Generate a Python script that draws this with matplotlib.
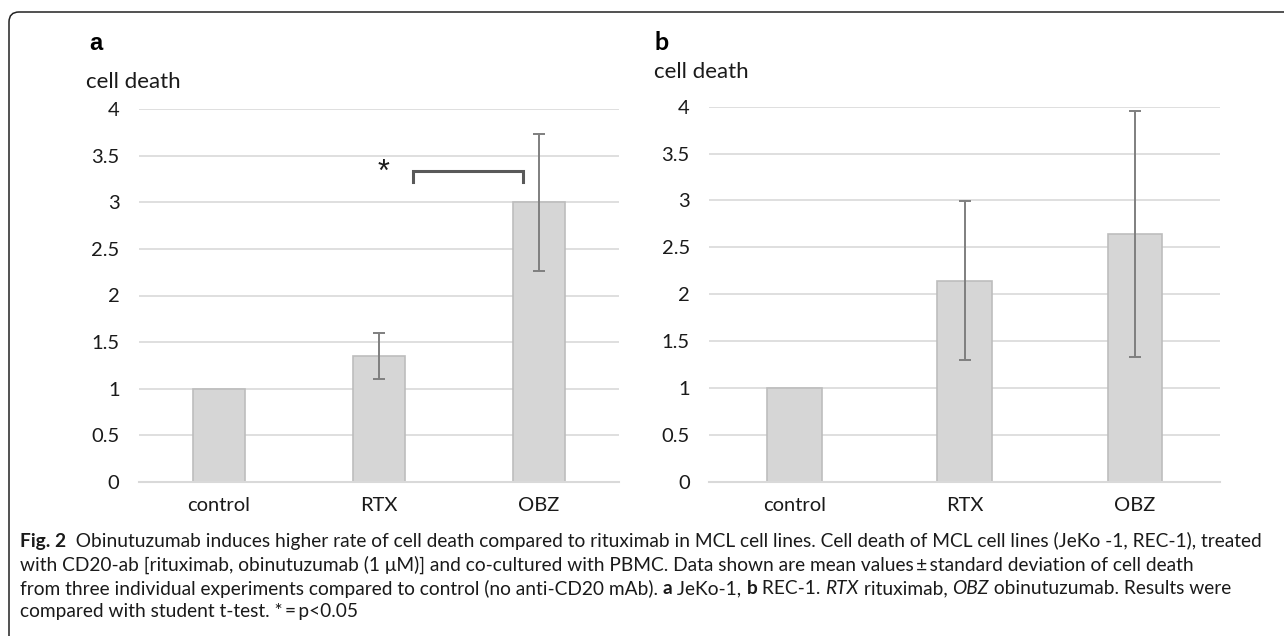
import matplotlib
matplotlib.use("Agg")
import matplotlib.pyplot as plt
from matplotlib.patches import FancyBboxPatch

# data
categories = ["control", "RTX", "OBZ"]
jeko_mean = [1.0, 1.35, 3.0]
jeko_sd = [0.0, 0.25, 0.74]
rec_mean = [1.0, 2.145, 2.645]
rec_sd = [0.0, 0.845, 1.31]
yticks = [0, 0.5, 1, 1.5, 2, 2.5, 3, 3.5, 4]
ytick_labels = ["0", "0.5", "1", "1.5", "2", "2.5", "3", "3.5", "4"]

# significance bracket (RTX vs OBZ, panel a)
bracket_x = [1.21, 1.9]
bracket_y = 3.34
bracket_drop = 0.12

caption_lines = [
    [("Fig. 2", "bold", "normal"),
     ("  Obinutuzumab induces higher rate of cell death compared to rituximab in MCL cell lines. "
      "Cell death of MCL cell lines (JeKo -1, REC-1), treated", "normal", "normal")],
    [("with CD20-ab [rituximab, obinutuzumab (1 \u03bcM)] and co-cultured with PBMC. Data shown are "
      "mean values\u2009\u00b1\u2009standard deviation of cell death", "normal", "normal")],
    [("from three individual experiments compared to control (no anti-CD20 mAb). ", "normal", "normal"),
     ("a", "bold", "normal"), (" JeKo-1, ", "normal", "normal"),
     ("b", "bold", "normal"), (" REC-1. ", "normal", "normal"),
     ("RTX", "normal", "italic"), (" rituximab, ", "normal", "normal"),
     ("OBZ", "normal", "italic"), (" obinutuzumab. Results were", "normal", "normal")],
    [("compared with student t-test. *\u2009=\u2009p<0.05", "normal", "normal")],
]

W, H = 1284, 636
BAR_COLOR = "#d6d6d6"
BAR_EDGE = "#bdbdbd"
ERR_COLOR = "#7f7f7f"
GRID_COLOR = "#d9d9d9"
TXT = "#1a1a1a"
FONT = ["Lato", "DejaVu Sans"]

fig = plt.figure(figsize=(W / 100, H / 100), dpi=100)
fig.patch.set_facecolor("white")

# rounded frame, only top and left edges visible
frame = FancyBboxPatch((9 / 100, -1.0), 14.0, 6.36 - 0.12 + 1.0,
                       boxstyle="round,pad=0,rounding_size=0.1",
                       transform=fig.dpi_scale_trans, facecolor="none",
                       edgecolor="#222222", linewidth=1.1)
fig.add_artist(frame)


def px_axes(x0, x1, ytop, ybot):
    return fig.add_axes([x0 / W, 1 - ybot / H, (x1 - x0) / W, (ybot - ytop) / H])


def style_panel(ax, means, sds):
    x = range(len(categories))
    ax.bar(x, means, width=0.32, color=BAR_COLOR, edgecolor=BAR_EDGE,
           linewidth=1.2, zorder=2)
    errs = [i for i in x if sds[i] > 0]
    ax.errorbar([x[i] for i in errs], [means[i] for i in errs],
                yerr=[sds[i] for i in errs], fmt="none", ecolor=ERR_COLOR,
                elinewidth=1.4, capsize=4, capthick=1.4, zorder=3)
    ax.set_xlim(-0.5, 2.5)
    ax.set_ylim(0, 4)
    ax.set_yticks(yticks)
    ax.set_yticklabels(ytick_labels, fontsize=14.5, color=TXT, family=FONT)
    ax.set_xticks(list(x))
    ax.set_xticklabels(categories, fontsize=14.5, color=TXT, family=FONT)
    ax.tick_params(length=0, axis="y", pad=14)
    ax.tick_params(length=0, axis="x", pad=11)
    ax.grid(axis="y", color=GRID_COLOR, linewidth=1.2, zorder=0)
    ax.set_axisbelow(True)
    for s in ["top", "right", "left"]:
        ax.spines[s].set_visible(False)
    ax.spines["bottom"].set_color(GRID_COLOR)
    ax.spines["bottom"].set_linewidth(1.5)


ax_a = px_axes(139, 619, 109.3, 481.7)
style_panel(ax_a, jeko_mean, jeko_sd)
ax_b = px_axes(709.3, 1220, 106.7, 481.7)
style_panel(ax_b, rec_mean, rec_sd)

# bracket and star on panel a
ax_a.plot([bracket_x[0], bracket_x[0], bracket_x[1], bracket_x[1]],
          [bracket_y - bracket_drop, bracket_y, bracket_y, bracket_y - bracket_drop],
          color="#595959", linewidth=2.2, solid_joinstyle="miter", zorder=4)
ax_a.text(1.03, bracket_y - 0.02, "*", fontsize=22, ha="center", va="center",
          color=TXT, family="Liberation Sans")

# panel letters and y-axis titles
fig.text(89 / W, 1 - 44 / H, "a", fontsize=17, fontweight="bold", family="Liberation Sans",
         va="center", ha="left", color="black")
fig.text(654 / W, 1 - 43 / H, "b", fontsize=18, fontweight="bold", family=FONT,
         va="center", ha="left", color="black")
fig.text(86 / W, 1 - 82 / H, "cell death", fontsize=16, family=FONT,
         va="center", ha="left", color=TXT)
fig.text(654 / W, 1 - 72 / H, "cell death", fontsize=16, family=FONT,
         va="center", ha="left", color=TXT)

# caption, drawn run by run
renderer = fig.canvas.get_renderer()
cap_size = 13.8
line_y = [541, 565, 589, 612]
for runs, ypx in zip(caption_lines, line_y):
    xpx = 20
    for txt, weight, style in runs:
        t = fig.text(xpx / W, 1 - ypx / H, txt, fontsize=cap_size, fontweight=weight,
                     fontstyle=style, family=FONT, va="center", ha="left", color=TXT)
        xpx += t.get_window_extent(renderer).width

fig.savefig("out.png", dpi=100)
